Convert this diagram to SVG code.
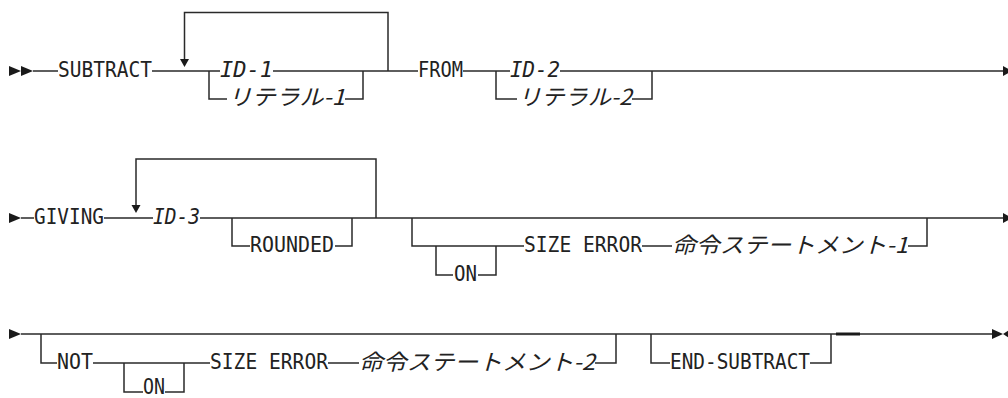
<svg xmlns="http://www.w3.org/2000/svg" width="1008" height="398" viewBox="0 0 1008 398">
<style>
.ln{fill:none;stroke:#2a2a2a;stroke-width:1.5}
.kw{font-family:"DejaVu Sans Mono","Liberation Mono",monospace;font-size:21.5px;fill:#222}
.it{font-family:"DejaVu Sans Mono","Liberation Mono",monospace;font-size:21.5px;font-style:italic;fill:#222}
.jp{font-family:"Noto Sans CJK JP","DejaVu Sans",sans-serif;font-size:22px;font-style:italic;fill:#222}
.ah{fill:#1a1a1a}
</style>
<rect width="1008" height="398" fill="#fff"/>
<g id="connectors">
<polygon class="ah" points="9,66 9,76 21,71"/>
<polygon class="ah" points="21,66 21,76 33,71"/>
<path class="ln" d="M33,71 H58 M152,71 H220 M273,71 H418 M388,71 V12.5 H184.5 V60 M209,71 V99 H227 M345,99 H363 V71 M463,71 H510 M560,71 H1003 M496,71 V99 H517 M632,99 H652 V71"/>
<polygon class="ah" points="180,59 189,59 184.5,67"/>
<polygon class="ah" points="1003,66 1003,76 1012,71"/>
<polygon class="ah" points="9,213 9,223 21,218"/>
<path class="ln" d="M21,218 H34 M104,218 H153 M200,218 H1003 M376,218 V159 H136 V206 M232,218 V246 H250 M335,246 H352 V218 M412,218 V246 H524 M436,246 V275 H453 M478,275 H496 V246 M642,246 H672 M908,246 H927 V218"/>
<polygon class="ah" points="131.5,205 140.5,205 136,213"/>
<polygon class="ah" points="1003,213 1003,223 1012,218"/>
<polygon class="ah" points="9,329 9,339 21,334"/>
<path class="ln" d="M21,334 H992 M41,334 V363 H57 M93,363 H210 M124,363 V392 H143 M165,392 H184 V363 M328,363 H359 M595,363 H616 V334 M651,334 V363 H670 M810,363 H831 V334"/>
<path d="M836,334 H860" stroke="#1a1a1a" stroke-width="3"/>
<polygon class="ah" points="992,329 992,339 1003,334"/>
<polygon class="ah" points="1009,330 1009,338 1003,334"/>
</g>
<g id="n-subtract"><text class="kw" x="58" y="76.5" textLength="94" lengthAdjust="spacingAndGlyphs">SUBTRACT</text></g>
<g id="n-id1"><text class="it" x="220" y="76.5" textLength="53" lengthAdjust="spacingAndGlyphs">ID-1</text></g>
<g id="n-lit1"><text class="jp" x="228" y="105" textLength="117" lengthAdjust="spacingAndGlyphs">リテラル-1</text></g>
<g id="n-from"><text class="kw" x="418" y="76.5" textLength="45" lengthAdjust="spacingAndGlyphs">FROM</text></g>
<g id="n-id2"><text class="it" x="510" y="76.5" textLength="50" lengthAdjust="spacingAndGlyphs">ID-2</text></g>
<g id="n-lit2"><text class="jp" x="518" y="105" textLength="114" lengthAdjust="spacingAndGlyphs">リテラル-2</text></g>
<g id="n-giving"><text class="kw" x="34" y="223.5" textLength="70" lengthAdjust="spacingAndGlyphs">GIVING</text></g>
<g id="n-id3"><text class="it" x="153" y="223.5" textLength="47" lengthAdjust="spacingAndGlyphs">ID-3</text></g>
<g id="n-rounded"><text class="kw" x="250" y="251.5" textLength="84" lengthAdjust="spacingAndGlyphs">ROUNDED</text></g>
<g id="n-on1"><text class="kw" x="454" y="280.5" textLength="23" lengthAdjust="spacingAndGlyphs">ON</text></g>
<g id="n-size1"><text class="kw" x="524" y="251.5" textLength="118" lengthAdjust="spacingAndGlyphs">SIZE ERROR</text></g>
<g id="n-stmt1"><text class="jp" x="672" y="253" textLength="236" lengthAdjust="spacingAndGlyphs">命令ステートメント-1</text></g>
<g id="n-not"><text class="kw" x="57" y="368.5" textLength="36" lengthAdjust="spacingAndGlyphs">NOT</text></g>
<g id="n-on2"><text class="kw" x="143" y="394" textLength="22" lengthAdjust="spacingAndGlyphs" font-size="17">ON</text></g>
<g id="n-size2"><text class="kw" x="210" y="368.5" textLength="118" lengthAdjust="spacingAndGlyphs">SIZE ERROR</text></g>
<g id="n-stmt2"><text class="jp" x="359" y="370" textLength="236" lengthAdjust="spacingAndGlyphs">命令ステートメント-2</text></g>
<g id="n-endsub"><text class="kw" x="670" y="368.5" textLength="140" lengthAdjust="spacingAndGlyphs">END-SUBTRACT</text></g>
</svg>
